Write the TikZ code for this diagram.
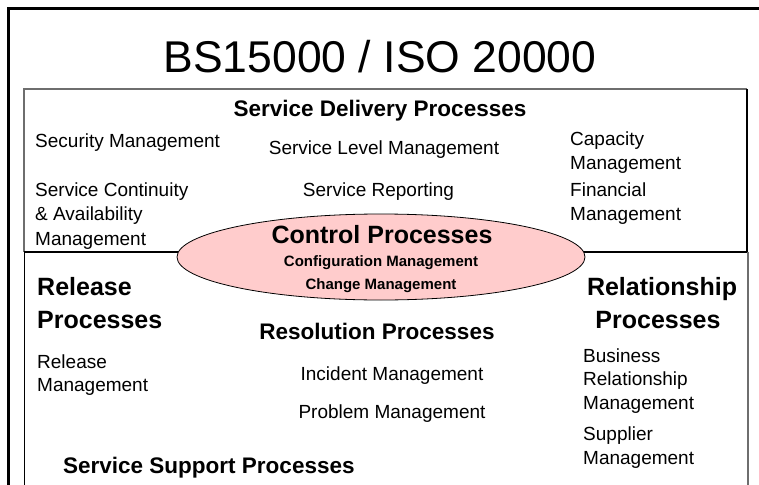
\documentclass[tikz,border=0pt]{standalone}
\usepackage{fontspec}
\setmainfont{Liberation Sans}
\usetikzlibrary{shapes.geometric}
\definecolor{ctrlpink}{RGB}{255,204,204}
\definecolor{edgegray}{RGB}{110,110,110}
\tikzset{
  reg/.style={inner sep=0pt, font=\fontsize{19}{23}\selectfont},
  sect/.style={inner sep=0pt, font=\fontsize{22.5}{27}\selectfont\bfseries},
  bigsect/.style={inner sep=0pt, font=\fontsize{25}{30}\selectfont\bfseries},
  small/.style={inner sep=0pt, font=\fontsize{15}{18}\selectfont\bfseries},
  titletext/.style={inner sep=0pt, font=\fontsize{44.5}{50}\selectfont},
}
\begin{document}
\begin{tikzpicture}[x=1pt,y=-1pt]
\useasboundingbox (0,0) rectangle (759,484);
\clip (0,0) rectangle (759,484);
\fill[white] (0,0) rectangle (759,484);
% outer frame
\draw[line width=2.5pt] (8.5,500) -- (8.5,8.5) -- (780,8.5);
% upper box
\draw[line width=1.2pt, edgegray] (24,252) -- (24,89) -- (747,89);
\draw[line width=1.2pt] (747,89) -- (747,252);
% lower box
\draw[line width=1.2pt] (24.5,500) -- (24.5,252) -- (748,252);
\draw[line width=1.2pt, edgegray] (748,252) -- (748,500);
% ellipse
\node[ellipse, draw, line width=0.8pt, fill=ctrlpink, minimum width=408pt, minimum height=86pt, inner sep=0pt] (ctrl) at (381,257) {};

\node[titletext, anchor=base] (title) at (380,73) {BS15000 / ISO 20000};
\node[sect, anchor=base] (sdp) at (380,117) {Service Delivery Processes};

\node[reg, anchor=base west] (sec) at (35,147) {Security Management};
\node[reg, anchor=base] (slm) at (384,154) {Service Level Management};
\node[reg, anchor=base west] (cap1) at (570,145) {Capacity};
\node[reg, anchor=base west] (cap2) at (570,169) {Management};
\node[reg, anchor=base west] (sca1) at (35,196) {Service Continuity};
\node[reg, anchor=base west] (sca2) at (35,220) {\& Availability};
\node[reg, anchor=base west] (sca3) at (35,245) {Management};
\node[reg, anchor=base] (srep) at (378.5,196) {Service Reporting};
\node[reg, anchor=base west] (fin1) at (570,196) {Financial};
\node[reg, anchor=base west] (fin2) at (570,220) {Management};

\node[bigsect, anchor=base] (cp) at (382,243) {Control Processes};
\node[small, anchor=base] (cfg) at (381,266) {Configuration Management};
\node[small, anchor=base] (chg) at (381,289) {Change Management};

\node[bigsect, anchor=base west] (rp1) at (37,295) {Release};
\node[bigsect, anchor=base west] (rp2) at (37,328) {Processes};
\node[bigsect, anchor=base] (relp1) at (662,295) {Relationship};
\node[bigsect, anchor=base] (relp2) at (658,328) {Processes};
\node[sect, anchor=base] (resp) at (377,339) {Resolution Processes};

\node[reg, anchor=base west] (rm1) at (37,368) {Release};
\node[reg, anchor=base west] (rm2) at (37,391) {Management};
\node[reg, anchor=base] (inc) at (392,380) {Incident Management};
\node[reg, anchor=base] (prb) at (392,418) {Problem Management};
\node[reg, anchor=base west] (brm1) at (583,362) {Business};
\node[reg, anchor=base west] (brm2) at (583,385) {Relationship};
\node[reg, anchor=base west] (brm3) at (583,409) {Management};
\node[reg, anchor=base west] (sup1) at (583,440) {Supplier};
\node[reg, anchor=base west] (sup2) at (583,464) {Management};
\node[sect, anchor=base west] (ssp) at (63,473) {Service Support Processes};
\end{tikzpicture}
\end{document}
